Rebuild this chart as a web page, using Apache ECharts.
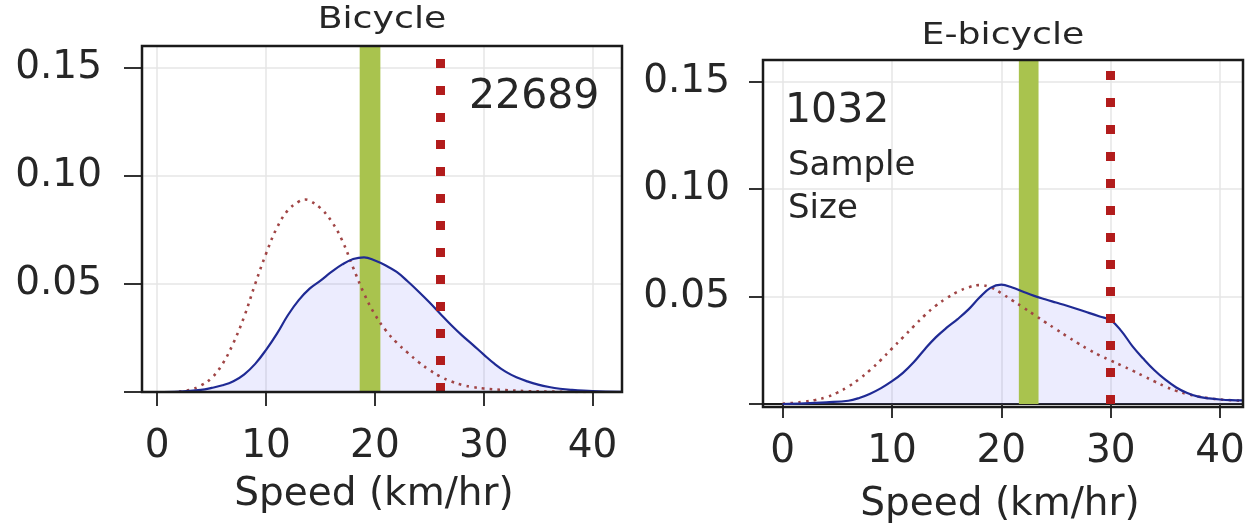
<!DOCTYPE html>
<html><head><meta charset="utf-8">
<script src="https://cdn.jsdelivr.net/npm/echarts@6/dist/echarts.min.js"></script>
<style>html,body{margin:0;padding:0;background:#fff}#c{width:1255px;height:529px}</style>
</head><body><div id="c"></div><script>
// ---- data ----
const panelTitles = ['Bicycle', 'E-bicycle'];
const xTicks = [0, 10, 20, 30, 40];
const yTicks = [0, 0.05, 0.10, 0.15];
const yLabelTicks = [0.05, 0.10, 0.15];
const xName = 'Speed (km/hr)';

const bikeSpeed = [0,2,4,5,6,7,8,9,10,11,12,13,14,15,16,17,18,19,20,21,22,23,24,25,26,27,28,29,30,31,32,33,34,35,36,37,38,40,42.7];
const bikeDensity = [0,0.0002,0.001,0.0019,0.0031,0.005,0.0082,0.013,0.0195,0.027,0.0355,0.0425,0.0478,0.0515,0.0555,0.059,0.0615,0.0623,0.0608,0.0585,0.0555,0.0512,0.0465,0.0415,0.0362,0.031,0.0262,0.0218,0.0173,0.013,0.0094,0.0068,0.0049,0.0034,0.0023,0.0015,0.001,0.0004,0.0001];
const bikeOtherSpeed = [2,3,4,5,6,7,8,9,10,11,12,13,13.6,14,15,16,17,18,19,20,21,22,23,24,25,26,27,28,29,30,32,34,36,38,40];
const bikeOtherDensity = [0.0002,0.001,0.003,0.0065,0.013,0.0227,0.035,0.050,0.064,0.076,0.084,0.088,0.089,0.0885,0.085,0.079,0.070,0.0575,0.0455,0.0358,0.0285,0.0228,0.0182,0.0139,0.0102,0.0072,0.0049,0.0033,0.0023,0.0016,0.0009,0.0004,0.0002,0.0001,0];

const ebikeSpeed = [0,2,4,6,7,8,9,10,11,12,13,14,15,16,17,18,19,20,21,22,23,24,25,26,27,28,29,30,31,32,33,34,35,36,37,38,39,40,41,42.1];
const ebikeDensity = [0,0.0003,0.0008,0.0015,0.0028,0.0048,0.0074,0.0106,0.0145,0.0195,0.0255,0.031,0.0355,0.0395,0.044,0.0495,0.054,0.0555,0.0542,0.0522,0.0503,0.0487,0.0472,0.0457,0.0441,0.0424,0.0407,0.039,0.0338,0.0268,0.021,0.0157,0.0113,0.0077,0.0051,0.0034,0.0026,0.0021,0.0018,0.0017];
const ebikeOtherSpeed = [0,1,2,3,4,5,6,7,8,9,10,11,12,13,14,15,16,17,18,19,20,21,22,23,24,25,26,27,28,29,30,31,32,33,34,35,36,37,38,39,40,42];
const ebikeOtherDensity = [0.0002,0.0005,0.0011,0.0019,0.0032,0.0053,0.0081,0.0116,0.0158,0.0206,0.0258,0.031,0.0362,0.0413,0.0457,0.0493,0.0522,0.0543,0.0553,0.0543,0.0515,0.0482,0.0449,0.0415,0.0381,0.0348,0.0315,0.0283,0.0253,0.0226,0.0202,0.0179,0.0155,0.013,0.0105,0.0081,0.0061,0.0046,0.0035,0.0027,0.0021,0.0015];

const bandRanges = [[18.6, 20.5], [21.6, 23.4]];
const limitLines = [26, 30];
const xRanges = [[-1.4, 42.7], [-1.8, 42.1]];
const yRange = [0, 0.16];
const sampleCounts = ['22689', '1032'];
const sampleLabel = 'Sample\nSize';

// ---- layout / style ----
const LAY = [
  {left: 142, top: 46, width: 480, height: 346, yLabMargin: 40, xLabMargin: 35, nameGap: 83, yTickLen: 18, namePad: [0, 16, 0, 0], titleY: 19.8},
  {left: 763, top: 60, width: 480, height: 347, yLabMargin: 33, xLabMargin: 28, nameGap: 81, yTickLen: 14, namePad: [0, 6, 0, 0], titleY: 36.4}
];
const FONT = 'DejaVu Sans';
const TXT = '#262626';
const zip = (a, b) => a.map((v, i) => [v, b[i]]);
const curves = [
  {main: zip(bikeSpeed, bikeDensity), other: zip(bikeOtherSpeed, bikeOtherDensity)},
  {main: zip(ebikeSpeed, ebikeDensity), other: zip(ebikeOtherSpeed, ebikeOtherDensity)}
];

const grid = [], xAxis = [], yAxis = [], series = [], graphic = [];
LAY.forEach((L, i) => {
  grid.push({left: L.left, top: L.top, width: L.width, height: L.height, containLabel: false});
  xAxis.push({
    type: 'value', gridIndex: i, min: xRanges[i][0], max: xRanges[i][1],
    name: xName, nameLocation: 'middle', nameGap: L.nameGap,
    nameTextStyle: {fontSize: 39, fontFamily: FONT, color: TXT, padding: L.namePad},
    axisLine: {show: true, onZero: false, lineStyle: {color: '#1a1a1a', width: 2}},
    axisTick: {show: true, length: 14, customValues: xTicks, lineStyle: {color: '#333', width: 2}},
    axisLabel: {customValues: xTicks, fontSize: 39, fontFamily: FONT, color: TXT, margin: L.xLabMargin},
    splitLine: {show: true, lineStyle: {color: '#e6e6e6', width: 1.5}}
  });
  yAxis.push({
    type: 'value', gridIndex: i, min: yRange[0], max: yRange[1],
    axisLine: {show: true, onZero: false, lineStyle: {color: '#1a1a1a', width: 2}},
    axisTick: {show: true, length: L.yTickLen, customValues: yTicks, lineStyle: {color: '#333', width: 2}},
    axisLabel: {customValues: yLabelTicks, fontSize: 39, fontFamily: FONT, color: TXT, margin: L.yLabMargin,
      formatter: v => v.toFixed(2)},
    splitLine: {show: true, lineStyle: {color: '#e6e6e6', width: 1.5}}
  });
  // filled area + reference band
  series.push({
    type: 'line', xAxisIndex: i, yAxisIndex: i, data: curves[i].main, smooth: 0.4,
    showSymbol: false, silent: true, z: 1,
    lineStyle: {width: 0, opacity: 0},
    areaStyle: {color: 'rgba(120,120,245,0.2)'},
    markArea: {z: 1.5, silent: true, itemStyle: {color: '#a9c34e', opacity: 1, borderWidth: 0},
      data: [[{xAxis: bandRanges[i][0]}, {xAxis: bandRanges[i][1]}]]}
  });
  // other (dotted) density + limit line
  series.push({
    type: 'line', xAxisIndex: i, yAxisIndex: i, data: curves[i].other, smooth: 0.4,
    showSymbol: false, silent: true, z: 3,
    lineStyle: {color: '#a04545', width: 2.6, type: [2.6, 5.2], cap: 'butt'},
    markLine: {silent: true, symbol: ['none', 'none'], label: {show: false}, z: 5,
      lineStyle: {color: '#b21c1c', width: 9, type: [9, 18], cap: 'butt'},
      data: [{xAxis: limitLines[i]}]}
  });
  // main density line
  series.push({
    type: 'line', xAxisIndex: i, yAxisIndex: i, data: curves[i].main, smooth: 0.4,
    showSymbol: false, silent: true, z: 4,
    lineStyle: {color: '#1f2a94', width: 2.2}
  });
  // frame
  graphic.push({type: 'rect', z: 100, silent: true,
    shape: {x: L.left, y: L.top, width: L.width, height: L.height},
    style: {fill: 'none', stroke: '#1a1a1a', lineWidth: 2.5}});
  // title
  graphic.push({type: 'text', z: 100, x: L.left + L.width / 2, y: L.titleY, scaleX: 1.17,
    style: {text: panelTitles[i], fontSize: 31, fontFamily: FONT, fill: TXT, align: 'center', verticalAlign: 'middle'}});
});
// annotations
graphic.push({type: 'text', z: 100, x: 469, y: 97.5,
  style: {text: sampleCounts[0], fontSize: 41, fontFamily: FONT, fill: TXT, align: 'left', verticalAlign: 'middle'}});
graphic.push({type: 'text', z: 100, x: 785, y: 111.5,
  style: {text: sampleCounts[1], fontSize: 41, fontFamily: FONT, fill: TXT, align: 'left', verticalAlign: 'middle'}});
graphic.push({type: 'text', z: 100, x: 788, y: 188,
  style: {text: sampleLabel, fontSize: 34, lineHeight: 43, fontFamily: FONT, fill: TXT, align: 'left', verticalAlign: 'middle'}});

const chart = echarts.init(document.getElementById('c'), null, {renderer: 'canvas'});
chart.setOption({animation: false, backgroundColor: '#fff', grid, xAxis, yAxis, series, graphic});
</script></body></html>
